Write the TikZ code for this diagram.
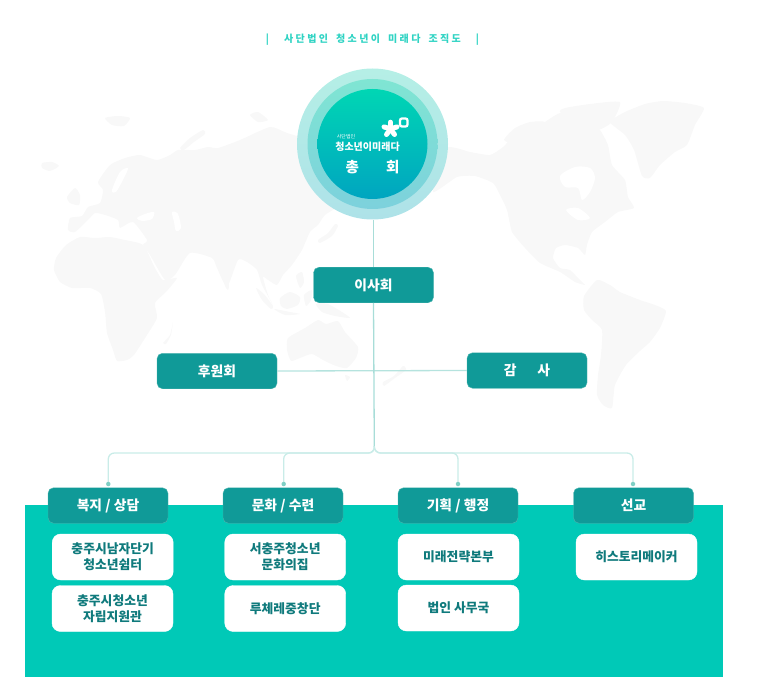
\documentclass[tikz,border=0pt]{standalone}
\usepackage{fontspec}
\newfontfamily\cjk{Noto Sans CJK KR}
\newfontfamily\cjktitle[LetterSpace=24]{Noto Sans CJK KR}
\definecolor{boxteal}{HTML}{109A98}
\definecolor{boxedge}{HTML}{4FB5AF}
\definecolor{bandteal}{HTML}{00C9B7}
\definecolor{linkteal}{HTML}{B5E3DE}
\definecolor{linkdark}{HTML}{A8DDD8}
\definecolor{linklight}{HTML}{C9ECE8}
\definecolor{dotteal}{HTML}{7FCFC5}
\definecolor{darktext}{HTML}{0F7A7C}
\definecolor{land}{HTML}{F8F8F8}
\definecolor{titleteal}{HTML}{2FD3C3}
\definecolor{ringAtop}{HTML}{B5EFE6}
\definecolor{ringAbot}{HTML}{AEE2E8}
\definecolor{ringBtop}{HTML}{7FE5D3}
\definecolor{ringBbot}{HTML}{7DD1DC}
\definecolor{coreTop}{HTML}{00D6B4}
\definecolor{coreBot}{HTML}{00A5C0}
\tikzset{
  x=1pt,y=-1pt,
  headbox/.style={draw=boxedge,line width=.4pt,fill=boxteal,rounded corners=5.5pt,minimum width=120pt,minimum height=35.5pt,inner sep=0pt,text=white,font=\cjk\bfseries\fontsize{13.8}{16}\selectfont},
  unitbox/.style={draw=white,fill=white,rounded corners=8.5pt,minimum width=121pt,minimum height=46pt,inner sep=0pt,align=center,text=darktext,font=\cjk\bfseries\fontsize{12.8}{16}\selectfont},
  link/.style={draw=linklight,line width=1.3pt,rounded corners=6pt},
  trunk/.style={draw=linkdark,line width=1.3pt},
  enddot/.style={circle,fill=dotteal,minimum size=4.5pt,inner sep=0pt},
  landmass/.style={fill=land},
  sea/.style={fill=white},
  logotext/.style={inner sep=0pt,text=white,font=\cjk\bfseries},
}
\begin{document}
\begin{tikzpicture}
\useasboundingbox (0,0) rectangle (759,700);
% world map
\fill[landmass] plot[smooth cycle,tension=.35] coordinates {(68,230)(70,218)(82,216)(88,207)(100,203)(103,190)(98,182)(110,165)(125,158)(140,155)(157,160)(170,155)(178,150)(195,150)(208,147)(218,148)(240,140)(270,127)(287,133)(310,140)(330,150)(345,170)(345,190)(340,205)(325,215)(318,225)(310,232)(302,250)(292,265)(283,275)(277,285)(268,280)(263,277)(268,295)(273,305)(262,285)(257,270)(247,262)(238,260)(227,287)(217,268)(212,258)(190,253)(175,275)(165,280)(150,255)(143,245)(147,240)(133,222)(120,228)(118,220)(105,215)(95,213)(88,220)(75,232)};
\fill[landmass] plot[smooth cycle,tension=.35] coordinates {(145,247)(139,243)(125,240)(110,237)(95,238)(80,237)(66,245)(56,258)(54,270)(60,282)(72,288)(90,288)(101,294)(105,312)(107,333)(113,350)(117,361)(127,360)(134,355)(147,335)(157,318)(155,303)(166,292)(177,278)(163,280)(155,268)};
\fill[landmass] plot[smooth cycle,tension=.3] coordinates {(173,322)(170,335)(163,343)(166,344)(171,335)};
\fill[landmass] plot[smooth cycle,tension=.35] coordinates {(288,338)(305,328)(318,320)(326,324)(338,321)(345,332)(358,347)(356,358)(347,368)(336,366)(323,360)(312,354)(300,358)(291,361)(287,350)};
\fill[landmass] plot[smooth cycle,tension=.4] coordinates {(345,375)(350,377)(347,381)};
\fill[landmass] plot[smooth cycle,tension=.4] coordinates {(280,298)(290,292)(300,297)(298,305)(287,309)(281,306)};
\fill[landmass] plot[smooth cycle,tension=.4] coordinates {(256,288)(264,294)(273,306)(271,309)(262,300)};
\fill[landmass] plot[smooth cycle,tension=.4] coordinates {(274,309)(290,312)(300,314)(285,315)};
\fill[landmass] plot[smooth cycle,tension=.4] coordinates {(304,295)(312,290)(311,300)(306,306)};
\fill[landmass] plot[smooth cycle,tension=.4] coordinates {(316,304)(328,304)(342,312)(350,318)(335,316)(322,312)};
\fill[landmass] plot[smooth cycle,tension=.4] coordinates {(296,276)(302,272)(304,282)(300,288)};
\fill[landmass] plot[smooth cycle,tension=.4] coordinates {(318,240)(328,233)(335,224)(338,226)(332,236)(320,243)};
\fill[landmass] plot[smooth cycle,tension=.4] coordinates {(67,197)(75,188)(80,195)(79,205)(70,203)};
\fill[landmass] plot[smooth cycle,tension=.4] coordinates {(42,163)(52,162)(59,166)(50,171)(42,168)};
\fill[landmass] plot[smooth cycle,tension=.4] coordinates {(105,118)(118,116)(130,118)(124,126)(112,125)};
\fill[landmass] plot[smooth cycle,tension=.4] coordinates {(180,148)(190,138)(203,130)(205,134)(194,142)(184,150)};
\fill[landmass] plot[smooth cycle,tension=.4] coordinates {(250,115)(258,112)(268,120)(258,122)};
\fill[landmass] plot[smooth cycle,tension=.4] coordinates {(224,275)(229,284)(228,290)(225,286)};
\fill[sea] plot[smooth cycle,tension=.5] coordinates {(137,218)(145,214)(154,212)(152,219)(142,221)};
\fill[sea] plot[smooth cycle,tension=.5] coordinates {(172,212)(178,214)(181,228)(176,231)(174,222)};
\fill[sea] plot[smooth cycle,tension=.5] coordinates {(112,190)(120,172)(128,168)(124,178)(116,192)};
% North America
\fill[landmass] plot[smooth cycle,tension=.3] coordinates {(447,148)(470,152)(490,155)(503,147)(520,130)(540,125)(560,113)(585,118)(600,130)(608,145)(612,165)(625,180)(628,197)(634,208)(618,212)(605,222)(592,232)(587,245)(585,255)(578,248)(565,245)(556,248)(553,258)(560,268)(570,270)(580,280)(585,285)(575,282)(560,272)(540,263)(525,248)(512,232)(507,210)(500,195)(493,183)(475,176)(457,177)(433,192)};
\fill[landmass] plot[smooth cycle,tension=.35] coordinates {(560,112)(565,108)(590,104)(620,102)(612,122)(598,130)(578,124)};
\fill[landmass] plot[smooth cycle,tension=.35] coordinates {(504,140)(515,128)(530,122)(545,122)(535,135)(518,145)};
\fill[landmass] plot[smooth cycle,tension=.35] coordinates {(610,122)(625,112)(645,104)(663,101)(685,103)(704,108)(695,125)(687,145)(675,152)(660,165)(650,178)(642,176)(634,150)(625,135)};
\fill[sea] plot[smooth cycle,tension=.5] coordinates {(560,176)(575,167)(590,168)(595,178)(590,192)(582,200)(578,188)(565,187)};
\fill[sea] plot[smooth cycle,tension=.5] coordinates {(566,210)(578,208)(590,218)(578,220)};
% South America
\fill[landmass] plot[smooth cycle,tension=.35] coordinates {(597,280)(610,285)(620,292)(640,300)(655,305)(666,311)(660,328)(650,342)(640,351)(626,365)(615,385)(612,408)(603,405)(597,395)(598,375)(601,355)(602,330)(592,320)(584,310)(584,296)};
\fill[landmass] plot[smooth cycle,tension=.4] coordinates {(403,366)(406,370)(395,378)(384,386)(383,382)(394,376)};
% band
\fill[bandteal] (25,505) rectangle (722.5,677);
% title
\node[inner sep=0pt,text=titleteal,font=\cjktitle\bfseries\fontsize{10}{12}\selectfont] (title) at (372.5,39.5) {|\hspace{15pt}사단법인\hspace{8pt}청소년이\hspace{8pt}미래다\hspace{8pt}조직도\hspace{15pt}|};
% top circles
\node[circle,minimum size=151pt,inner sep=0pt,top color=ringAtop,bottom color=ringAbot] (top) at (372.5,144) {};
\node[circle,minimum size=130pt,inner sep=0pt,top color=ringBtop,bottom color=ringBbot] (mid) at (372.5,144) {};
\node[circle,minimum size=110pt,inner sep=0pt,top color=coreTop,bottom color=coreBot] (core) at (372.5,144) {};
% logo
\foreach \a in {90,18,162,234,306}
  \draw[white,line width=5pt,line cap=round] (390.5,129) -- ++(\a:6.8pt);
\draw[white,line width=2.3pt,rounded corners=2pt] (400,118.5) rectangle (407.5,126.5);
\node[logotext,font=\cjk\fontsize{5}{6}\selectfont] (small) at (346,136.5) {사단법인};
\node[logotext,font=\cjk\bfseries\fontsize{10}{11}\selectfont] (brand) at (367.5,146.5) {청소년이미래다};
\node[logotext,font=\cjk\bfseries\fontsize{14.5}{18}\selectfont] (assembly) at (372.5,167) {총\hspace{27pt}회};
% governance boxes
\node[headbox] (board) at (373.5,285) {이사회};
\node[headbox] (patron) at (217,371) {후원회};
\node[headbox] (audit) at (527,370.5) {감\hspace{21pt}사};
% divisions
\node[headbox] (divA) at (108,505.5) {복지 / 상담};
\node[headbox] (divB) at (283,505.5) {문화 / 수련};
\node[headbox] (divC) at (458,505.5) {기획 / 행정};
\node[headbox] (divD) at (633.5,505.5) {선교};
% units
\node[unitbox] (u1) at (112.7,557) {충주시남자단기\\청소년쉼터};
\node[unitbox] (u2) at (112.5,608.5) {충주시청소년\\자립지원관};
\node[unitbox] (u3) at (285.2,557) {서충주청소년\\문화의집};
\node[unitbox] (u4) at (285.2,608.5) {루체레중창단};
\node[unitbox] (u5) at (458.5,557) {미래전략본부};
\node[unitbox] (u6) at (458.5,608) {법인 사무국};
\node[unitbox] (u7) at (636.5,557) {히스토리메이커};
% connectors
\coordinate (bus) at (374.5,453);
\coordinate (stem) at (374.3,446);
\coordinate (dotA) at (108.3,484);
\coordinate (dotB) at (283.7,484);
\coordinate (dotC) at (458,484);
\coordinate (dotD) at (633,484);
\draw[link,draw=linkteal,rounded corners=0pt] (patron.east) -- (audit.west);
\draw[link] (stem) -- (bus) -| (dotA);
\draw[link] (stem) -- (bus) -| (dotB);
\draw[link] (stem) -- (bus) -| (dotC);
\draw[link] (stem) -- (bus) -| (dotD);
\draw[trunk] (top.south -| board.north) -- (board.north);
\draw[trunk] (board.south) -- (stem);
\node[enddot] (endA) at (dotA) {};
\node[enddot] (endB) at (dotB) {};
\node[enddot] (endC) at (dotC) {};
\node[enddot] (endD) at (dotD) {};
\end{tikzpicture}
\end{document}
